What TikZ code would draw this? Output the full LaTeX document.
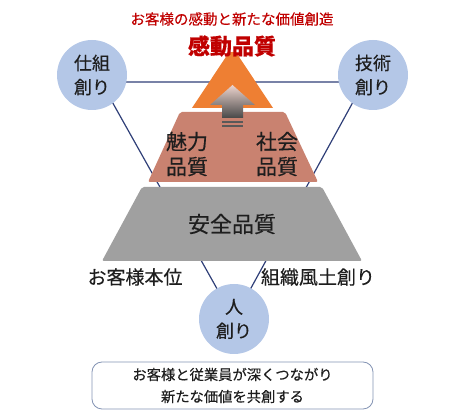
\documentclass[tikz,border=0pt]{standalone}
\usepackage{fontspec}
\setmainfont{Noto Sans CJK JP}[FakeBold=0.3]
\usepackage{tikz}
\usetikzlibrary{positioning,calc,backgrounds}

\definecolor{circblue}{HTML}{B4C7E7}
\definecolor{linknavy}{HTML}{2F3F78}
\definecolor{toporange}{HTML}{EE7F33}
\definecolor{midsalmon}{HTML}{C98270}
\definecolor{basegray}{HTML}{A0A0A0}
\definecolor{headred}{HTML}{C00000}
\definecolor{boxline}{HTML}{8494B4}
\definecolor{inktext}{HTML}{1E1E1E}

\begin{document}
\begin{tikzpicture}[
  x=1pt, y=-1pt,
  pillar/.style={circle, fill=circblue, minimum size=70pt, inner sep=0pt, align=center, text=inktext, font={\fontsize{18}{24}\selectfont}},
  link/.style={draw=linknavy, line width=1.2pt},
  layer/.style={rounded corners=2pt},
  quality/.style={align=center, text=inktext, inner sep=0pt, font={\fontsize{21}{25}\selectfont}},
  sidelabel/.style={text=inktext, inner sep=0pt, font={\fontsize{19}{23}\selectfont}},
  headline/.style={text=headred, inner sep=0pt, font={\fontsize{14.5}{18}\selectfont}},
  msgbox/.style={draw=boxline, line width=0.8pt, rounded corners=10pt, fill=white, minimum width=281pt, minimum height=47pt, align=center, text=inktext, font={\fontsize{14.3}{22}\selectfont}}
]
  \useasboundingbox (0,0) rectangle (464,419);

  % three pillars
  \node[pillar] (shikumi) at (92,75) {仕組\\創り};
  \node[pillar] (gijutsu) at (373,75) {技術\\創り};
  \node[pillar] (hito) at (234,319) {人\\創り};

  \coordinate (vl) at ($(shikumi.center)+(9,7)$);
  \coordinate (vr) at ($(gijutsu.center)+(-9,7)$);
  \coordinate (vb) at (hito.center);
  \begin{scope}[on background layer]
    \draw[link] (vl) -- (vr) -- (vb) -- cycle;
  \end{scope}

  % pyramid
  \fill[toporange] (192,108) [rounded corners=10pt] -- (232.5,47) [sharp corners] -- (273,108) -- cycle;
  \fill[midsalmon, layer] (148,182) -- (180,112) -- (285,112) -- (318,182) -- cycle;
  \fill[basegray, layer] (102,261) -- (142,187) -- (322,187) -- (362,261) -- cycle;

  % rising arrow
  \shade[top color=midsalmon!35!white, bottom color=black!72]
    (222,118) -- (222,105) -- (210,105) -- (232.5,85) -- (255,105) -- (243,105) -- (243,118) -- cycle;
  \fill[black!65] (222,121) rectangle (243,123);
  \fill[black!65] (222,125) rectangle (243,127);

  % labels
  \node[headline] (motto) at (232,19) {お客様の感動と新たな価値創造};
  \node[headline, font={\fontsize{22}{26}\selectfont\bfseries}] (kando) at (232,46) {感動品質};
  \node[quality] (miryoku) at (187,154) {魅力\\品質};
  \node[quality] (shakai) at (277,154) {社会\\品質};
  \node[quality, font={\fontsize{22}{26}\selectfont}] (anzen) at (232,224) {安全品質};
  \node[sidelabel] (honi) at (135,277) {お客様本位};
  \node[sidelabel] (fudo) at (318,277) {組織風土創り};

  \node[msgbox] (kyoso) at (232.5,385.5) {お客様と従業員が深くつながり\\新たな価値を共創する};
\end{tikzpicture}
\end{document}
